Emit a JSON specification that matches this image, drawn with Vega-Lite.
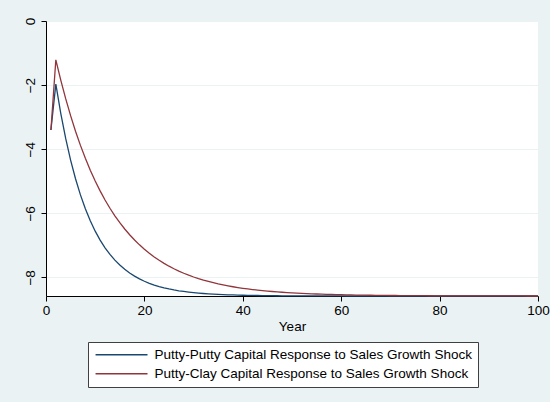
{
  "$schema": "https://vega.github.io/schema/vega-lite/v6.json",
  "autosize": "none",
  "width": 492,
  "height": 275,
  "padding": {"left": 46, "top": 21, "right": 12, "bottom": 106},
  "background": "#EAF2F3",
  "config": {
    "font": "Liberation Sans",
    "view": {"fill": "white", "stroke": null},
    "axis": {
      "domainColor": "#000000",
      "domainWidth": 1,
      "tickColor": "#000000",
      "tickSize": 5,
      "tickWidth": 1,
      "labelColor": "#000000",
      "labelFontSize": 13.5,
      "titleColor": "#000000",
      "titleFontSize": 13.5,
      "titleFontWeight": "normal",
      "gridColor": "#EAF2F3",
      "gridWidth": 1
    }
  },
  "data": {
    "values": [
      {"t":1,"pp":-3.40,"pc":-3.40},
      {"t":2,"pp":-1.97,"pc":-1.21},
      {"t":3,"pp":-2.879,"pc":-1.844},
      {"t":4,"pp":-3.664,"pc":-2.424},
      {"t":5,"pp":-4.340,"pc":-2.954},
      {"t":6,"pp":-4.923,"pc":-3.438},
      {"t":7,"pp":-5.426,"pc":-3.881},
      {"t":8,"pp":-5.860,"pc":-4.285},
      {"t":9,"pp":-6.234,"pc":-4.655},
      {"t":10,"pp":-6.557,"pc":-4.993},
      {"t":11,"pp":-6.835,"pc":-5.301},
      {"t":12,"pp":-7.075,"pc":-5.584},
      {"t":13,"pp":-7.282,"pc":-5.842},
      {"t":14,"pp":-7.461,"pc":-6.077},
      {"t":15,"pp":-7.615,"pc":-6.293},
      {"t":16,"pp":-7.748,"pc":-6.490},
      {"t":17,"pp":-7.862,"pc":-6.669},
      {"t":18,"pp":-7.961,"pc":-6.834},
      {"t":19,"pp":-8.046,"pc":-6.984},
      {"t":20,"pp":-8.120,"pc":-7.122},
      {"t":21,"pp":-8.183,"pc":-7.247},
      {"t":22,"pp":-8.238,"pc":-7.362},
      {"t":23,"pp":-8.285,"pc":-7.467},
      {"t":24,"pp":-8.325,"pc":-7.562},
      {"t":25,"pp":-8.360,"pc":-7.650},
      {"t":26,"pp":-8.391,"pc":-7.730},
      {"t":27,"pp":-8.417,"pc":-7.803},
      {"t":28,"pp":-8.439,"pc":-7.870},
      {"t":29,"pp":-8.458,"pc":-7.931},
      {"t":30,"pp":-8.475,"pc":-7.987},
      {"t":31,"pp":-8.490,"pc":-8.038},
      {"t":32,"pp":-8.502,"pc":-8.085},
      {"t":33,"pp":-8.513,"pc":-8.127},
      {"t":34,"pp":-8.522,"pc":-8.166},
      {"t":35,"pp":-8.530,"pc":-8.202},
      {"t":36,"pp":-8.537,"pc":-8.234},
      {"t":37,"pp":-8.543,"pc":-8.264},
      {"t":38,"pp":-8.548,"pc":-8.291},
      {"t":39,"pp":-8.552,"pc":-8.316},
      {"t":40,"pp":-8.556,"pc":-8.339},
      {"t":41,"pp":-8.559,"pc":-8.360},
      {"t":42,"pp":-8.562,"pc":-8.379},
      {"t":43,"pp":-8.565,"pc":-8.396},
      {"t":44,"pp":-8.567,"pc":-8.412},
      {"t":45,"pp":-8.569,"pc":-8.426},
      {"t":46,"pp":-8.570,"pc":-8.440},
      {"t":47,"pp":-8.572,"pc":-8.452},
      {"t":48,"pp":-8.573,"pc":-8.463},
      {"t":49,"pp":-8.574,"pc":-8.473},
      {"t":50,"pp":-8.575,"pc":-8.482},
      {"t":51,"pp":-8.576,"pc":-8.490},
      {"t":52,"pp":-8.576,"pc":-8.498},
      {"t":53,"pp":-8.577,"pc":-8.505},
      {"t":54,"pp":-8.577,"pc":-8.512},
      {"t":55,"pp":-8.578,"pc":-8.518},
      {"t":56,"pp":-8.578,"pc":-8.523},
      {"t":57,"pp":-8.578,"pc":-8.528},
      {"t":58,"pp":-8.579,"pc":-8.532},
      {"t":59,"pp":-8.579,"pc":-8.536},
      {"t":60,"pp":-8.579,"pc":-8.540},
      {"t":61,"pp":-8.58,"pc":-8.544},
      {"t":62,"pp":-8.58,"pc":-8.547},
      {"t":63,"pp":-8.58,"pc":-8.550},
      {"t":64,"pp":-8.58,"pc":-8.552},
      {"t":65,"pp":-8.58,"pc":-8.555},
      {"t":66,"pp":-8.58,"pc":-8.557},
      {"t":67,"pp":-8.58,"pc":-8.559},
      {"t":68,"pp":-8.58,"pc":-8.561},
      {"t":69,"pp":-8.58,"pc":-8.562},
      {"t":70,"pp":-8.58,"pc":-8.564},
      {"t":71,"pp":-8.58,"pc":-8.565},
      {"t":72,"pp":-8.58,"pc":-8.566},
      {"t":73,"pp":-8.58,"pc":-8.568},
      {"t":74,"pp":-8.58,"pc":-8.569},
      {"t":75,"pp":-8.58,"pc":-8.570},
      {"t":76,"pp":-8.58,"pc":-8.571},
      {"t":77,"pp":-8.58,"pc":-8.571},
      {"t":78,"pp":-8.58,"pc":-8.572},
      {"t":79,"pp":-8.58,"pc":-8.573},
      {"t":80,"pp":-8.58,"pc":-8.573},
      {"t":81,"pp":-8.58,"pc":-8.574},
      {"t":82,"pp":-8.58,"pc":-8.575},
      {"t":83,"pp":-8.58,"pc":-8.575},
      {"t":84,"pp":-8.58,"pc":-8.576},
      {"t":85,"pp":-8.58,"pc":-8.576},
      {"t":86,"pp":-8.58,"pc":-8.577},
      {"t":87,"pp":-8.58,"pc":-8.577},
      {"t":88,"pp":-8.58,"pc":-8.577},
      {"t":89,"pp":-8.58,"pc":-8.578},
      {"t":90,"pp":-8.58,"pc":-8.578},
      {"t":91,"pp":-8.58,"pc":-8.578},
      {"t":92,"pp":-8.58,"pc":-8.578},
      {"t":93,"pp":-8.58,"pc":-8.579},
      {"t":94,"pp":-8.58,"pc":-8.579},
      {"t":95,"pp":-8.58,"pc":-8.579},
      {"t":96,"pp":-8.58,"pc":-8.579},
      {"t":97,"pp":-8.58,"pc":-8.579},
      {"t":98,"pp":-8.58,"pc":-8.58},
      {"t":99,"pp":-8.58,"pc":-8.58},
      {"t":100,"pp":-8.58,"pc":-8.58}
    ]
  },
  "transform": [
    {"fold": ["pp", "pc"], "as": ["series", "value"]}
  ],
  "mark": {"type": "line", "strokeWidth": 1.3, "clip": false},
  "encoding": {
    "x": {
      "field": "t",
      "type": "quantitative",
      "title": "Year",
      "scale": {"domain": [0, 100], "nice": false, "zero": false},
      "axis": {"values": [0, 20, 40, 60, 80, 100], "grid": false, "labelPadding": 2, "titlePadding": 3, "labelFlush": false}
    },
    "y": {
      "field": "value",
      "type": "quantitative",
      "title": null,
      "scale": {"domain": [-8.58, 0], "nice": false, "zero": false},
      "axis": {"values": [-8, -6, -4, -2, 0], "grid": true, "labelAngle": 270, "labelPadding": 4, "labelFlush": false}
    },
    "color": {
      "field": "series",
      "type": "nominal",
      "scale": {"domain": ["pp", "pc"], "range": ["#1A476F", "#90353B"]},
      "legend": {
        "title": null,
        "orient": "none",
        "legendX": 42,
        "legendY": 321,
        "direction": "vertical",
        "symbolType": "M-1,0H9",
        "symbolSize": 108,
        "symbolStrokeWidth": 1.3,
        "labelFontSize": 13.5,
        "labelColor": "#000000",
        "labelOffset": 47,
        "labelLimit": 400,
        "labelExpr": "datum.value == 'pp' ? 'Putty-Putty Capital Response to Sales Growth Shock' : 'Putty-Clay Capital Response to Sales Growth Shock'",
        "fillColor": "white",
        "strokeColor": "#404040",
        "padding": 6,
        "rowPadding": 4
      }
    }
  }
}
